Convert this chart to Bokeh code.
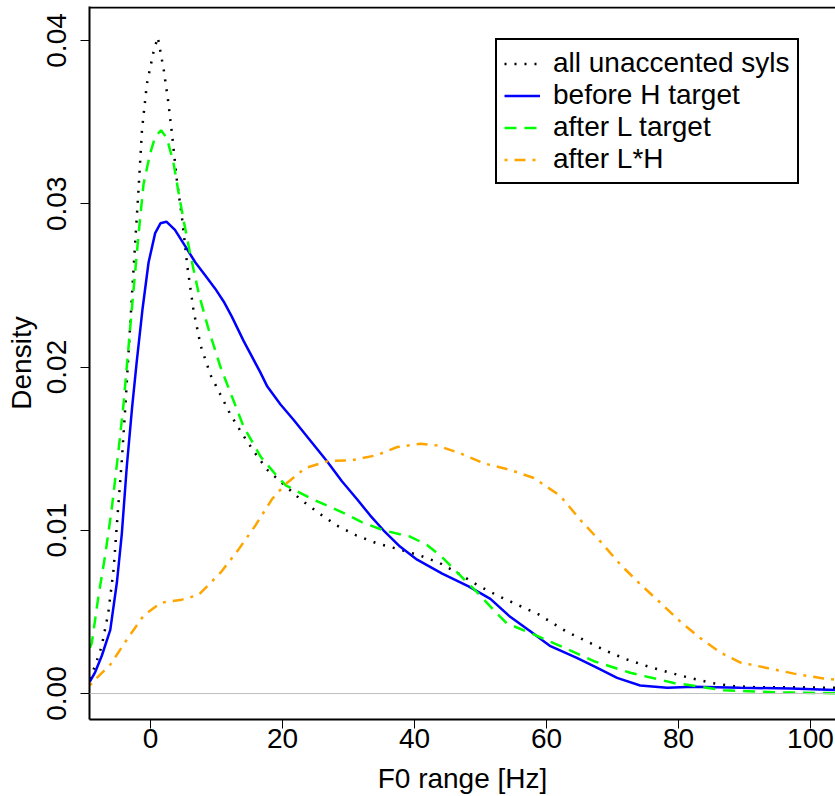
import numpy as np
from bokeh.plotting import figure
from bokeh.models import Range1d, FixedTicker, Span, Legend, LegendItem, PrintfTickFormatter
from bokeh.embed import file_html
from bokeh.resources import INLINE

# ---- data ----
series_names = ["all unaccented syls", "before H target", "after L target", "after L*H"]

unacc_x = [-9.2, -8.4, -7.4, -6.4, -5.6, -5.0, -4.35, -3.8, -2.8, -2.3, -1.8, -1.3, -0.55, 0.45, 1.1,
           2.0, 2.7, 3.3, 4.0, 4.75, 5.6, 6.5, 7.6, 9.1, 10.6, 12.1, 13.9, 15.7, 17.7, 20.2, 22.7,
           25.5, 28.2, 31.1, 34.3, 37.5, 40.8, 43.8, 46.9, 49.7, 52.6, 55.8, 58.7, 63.0, 66.1, 69.1,
           72.1, 75.3, 78.5, 81.7, 85.0, 88.4, 91.7, 95.0, 98.5, 103.8]
unacc_y = [0.0009, 0.0017, 0.0029, 0.00495, 0.0076, 0.0109, 0.0143, 0.0177, 0.0245, 0.0278, 0.0310,
           0.0345, 0.03735, 0.0393, 0.0402, 0.0382, 0.0362, 0.0341, 0.0314, 0.0292, 0.0261, 0.0235,
           0.0213, 0.0195, 0.0183, 0.0171, 0.0159, 0.0148, 0.0137, 0.0128, 0.0119, 0.01105, 0.0103,
           0.0097, 0.0092, 0.00885, 0.00846, 0.0080, 0.0073, 0.0066, 0.0060, 0.0054, 0.00487, 0.0038,
           0.0032, 0.0026, 0.0021, 0.00167, 0.0013, 0.00096, 0.00065, 0.00045, 0.00039, 0.00039,
           0.00038, 0.00035]

beforeH_x = [-9.2, -8.4, -7.4, -6.1, -5.1, -4.35, -3.6, -2.8, -2.1, -1.2, -0.3, 0.7, 1.5, 2.4, 3.7,
             5.25, 6.8, 8.3, 9.8, 11.1, 12.3, 14.1, 16.6, 17.7, 19.7, 21.7, 24.2, 26.8, 29.0, 31.3,
             33.3, 35.3, 37.8, 40.4, 44.2, 48.2, 51.5, 54.5, 57.6, 60.6, 64.6, 67.7, 70.7, 74.2,
             78.3, 82.3, 89.4, 97.0, 103.8]
beforeH_y = [0.00073, 0.0013, 0.0023, 0.0039, 0.0068, 0.0098, 0.0139, 0.0175, 0.0203, 0.0236, 0.0264,
             0.0282, 0.0288, 0.0289, 0.0284, 0.0274, 0.0264, 0.0256, 0.0248, 0.0240, 0.0231, 0.0216,
             0.0197, 0.0188, 0.0177, 0.01675, 0.0155, 0.0142, 0.0130, 0.0119, 0.0109, 0.0100, 0.0090,
             0.0082, 0.00735, 0.00656, 0.0058, 0.0047, 0.0038, 0.0029, 0.00218, 0.00157, 0.00096,
             0.00049, 0.00035, 0.00041, 0.00035, 0.00031, 0.00022]

afterL_x = [-9.2, -8.9, -7.9, -6.9, -5.9, -4.85, -4.1, -2.8, -1.8, -1.06, -0.05, 0.7, 1.6, 2.5, 3.5,
            4.2, 5.0, 6.0, 7.3, 8.8, 10.6, 14.1, 16.7, 19.2, 20.5, 24.2, 29.3, 32.0, 35.3, 39.4,
            41.9, 44.2, 47.0, 49.5, 52.5, 54.0, 57.6, 61.6, 67.2, 72.7, 79.3, 86.9, 94.4, 103.8]
afterL_y = [0.0028, 0.0031, 0.00595, 0.0084, 0.01125, 0.0149, 0.0177, 0.0237, 0.0282, 0.0312,
            0.0331, 0.0341, 0.0345, 0.0340, 0.03245, 0.0308, 0.0290, 0.02695, 0.0245, 0.0223,
            0.0200, 0.01635, 0.0145, 0.0133, 0.01275, 0.01197, 0.01105, 0.0105, 0.0100, 0.0096,
            0.0091, 0.00835, 0.0072, 0.0062, 0.0049, 0.0043, 0.0037, 0.0030, 0.00198, 0.00127,
            0.00065, 0.0002, 0.00008, 0.00002]

afterLH_x = [-9.2, -8.4, -6.1, -3.6, -1.06, 1.5, 4.75, 7.3, 10.6, 13.3, 15.9, 18.4, 20.4, 23.4, 27.0,
             30.3, 34.3, 37.4, 40.9, 43.4, 47.0, 50.5, 54.5, 58.1, 62.1, 65.2, 68.2, 71.2, 74.2,
             77.3, 80.3, 83.3, 86.4, 89.4, 93.4, 97.5, 102.0, 103.8]
afterLH_y = [0.0005, 0.00086, 0.00177, 0.0033, 0.00477, 0.00555, 0.00575, 0.00605, 0.0074, 0.0088,
             0.0103, 0.0119, 0.0128, 0.0138, 0.01425, 0.01427, 0.0146, 0.0151, 0.0153, 0.0152,
             0.0147, 0.0141, 0.0137, 0.0132, 0.0121, 0.0106, 0.0093, 0.0079, 0.0067, 0.00555,
             0.0044, 0.0034, 0.0025, 0.0019, 0.00157, 0.00122, 0.00092, 0.00085]

x_ticks = [0, 20, 40, 60, 80, 100]
y_ticks = [0.0, 0.01, 0.02, 0.03, 0.04]

FONT = "Liberation Sans"

p = figure(width=835, height=796, output_backend="svg", toolbar_location=None,
           x_range=Range1d(-9.25, 103.8), y_range=Range1d(-0.00159, 0.04208),
           min_border_left=89, min_border_right=0, min_border_top=6, min_border_bottom=76,
           x_axis_label="F0 range [Hz]", y_axis_label="Density")
p.background_fill_color = "white"
p.border_fill_color = "white"
p.outline_line_color = None
p.xgrid.grid_line_color = None
p.ygrid.grid_line_color = None

for ax in (p.xaxis[0], p.yaxis[0]):
    ax.axis_line_width = 2
    ax.axis_line_color = "black"
    ax.major_tick_line_color = "black"
    ax.major_tick_line_width = 1
    ax.major_tick_out = 9
    ax.major_tick_in = 0
    ax.minor_tick_line_color = None
    ax.major_label_text_font = FONT
    ax.major_label_text_font_size = "28px"
    ax.major_label_text_color = "black"
    ax.axis_label_text_font = FONT
    ax.axis_label_text_font_size = "28px"
    ax.axis_label_text_font_style = "normal"
    ax.axis_label_text_color = "black"

p.xaxis.ticker = FixedTicker(ticks=x_ticks)
p.yaxis.ticker = FixedTicker(ticks=y_ticks)
p.yaxis.formatter = PrintfTickFormatter(format="%.2f")
p.yaxis.major_label_orientation = "parallel"
p.xaxis.major_label_standoff = 0
p.yaxis.major_label_standoff = 14
p.xaxis.axis_label_standoff = 12
p.yaxis.axis_label_standoff = 8

# gray zero line and top border of the box
p.add_layout(Span(location=0, dimension="width", line_color="#BEBEBE", line_width=1))
p.add_layout(Span(location=0.04202, dimension="width", line_color="black", line_width=2))

r1 = p.line(unacc_x, unacc_y, line_color="black", line_width=2.5, line_dash="2 8")
r2 = p.line(beforeH_x, beforeH_y, line_color="#0000FF", line_width=2.5)
r3 = p.line(afterL_x, afterL_y, line_color="#00FF00", line_width=2.5, line_dash="12 8")
r4 = p.line(afterLH_x, afterLH_y, line_color="#FFA500", line_width=2.5, line_dash="3 7 11 7")

legend = Legend(items=[LegendItem(label=series_names[0], renderers=[r1]),
                       LegendItem(label=series_names[1], renderers=[r2]),
                       LegendItem(label=series_names[2], renderers=[r3]),
                       LegendItem(label=series_names[3], renderers=[r4])],
                location=(406, 535), margin=0, padding=7, spacing=0,
                glyph_width=36, glyph_height=29, label_height=29, label_standoff=13,
                label_text_font=FONT, label_text_font_size="28px", label_text_color="black",
                border_line_color="black", border_line_width=2, border_line_alpha=1.0,
                background_fill_color="white", background_fill_alpha=1.0)
p.add_layout(legend)

open("out.html", "w").write(file_html(p, INLINE))
